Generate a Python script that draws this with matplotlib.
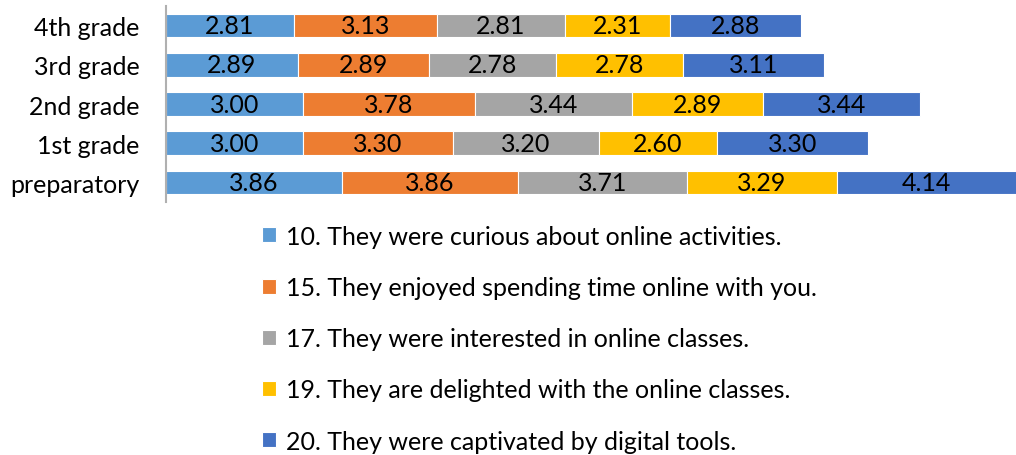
import matplotlib.pyplot as plt
import numpy as np

plt.rcParams['font.family'] = ['Lato', 'DejaVu Sans']

grades = ['preparatory', '1st grade', '2nd grade', '3rd grade', '4th grade']
items = ['10. They were curious about online activities.',
         '15. They enjoyed spending time online with you.',
         '17. They were interested in online classes.',
         '19. They are delighted with the online classes.',
         '20. They were captivated by digital tools.']
q10 = [3.86, 3.00, 3.00, 2.89, 2.81]
q15 = [3.86, 3.30, 3.78, 2.89, 3.13]
q17 = [3.71, 3.20, 3.44, 2.78, 2.81]
q19 = [3.29, 2.60, 2.89, 2.78, 2.31]
q20 = [4.14, 3.30, 3.44, 3.11, 2.88]
colors = ['#5B9BD5', '#ED7D31', '#A5A5A5', '#FFC000', '#4472C4']

fig = plt.figure(figsize=(10.16, 4.56), dpi=100)
ax = fig.add_axes([0.1634, 0.5548, 0.8366, 0.4298])

y = np.arange(len(grades))
left = np.zeros(len(grades))
for vals, lab, col in zip([q10, q15, q17, q19, q20], items, colors):
    bars = ax.barh(y, vals, left=left, height=0.6, color=col, label=lab,
                   edgecolor='white', linewidth=0.8)
    ax.bar_label(bars, labels=[f'{v:.2f}' for v in vals], label_type='center',
                 fontsize=18, color='black')
    left += np.array(vals)

ax.set_xlim(0, 18.66)
ax.set_ylim(-0.5, 4.5)
ax.set_yticks(y)
ax.set_yticklabels(grades, fontsize=18)
ax.tick_params(axis='y', length=0, pad=19)
ax.set_xticks([])
for s in ['top', 'right', 'bottom']:
    ax.spines[s].set_visible(False)
ax.spines['left'].set_color('#B0B0B0')
ax.spines['left'].set_linewidth(1.5)

fig.legend(loc='upper left', bbox_to_anchor=(0.248, 0.527), frameon=False,
           fontsize=18, labelspacing=1.13, handlelength=0.55, handleheight=0.55,
           handletextpad=0.4, borderaxespad=0)

fig.savefig('out.png', dpi=100)
